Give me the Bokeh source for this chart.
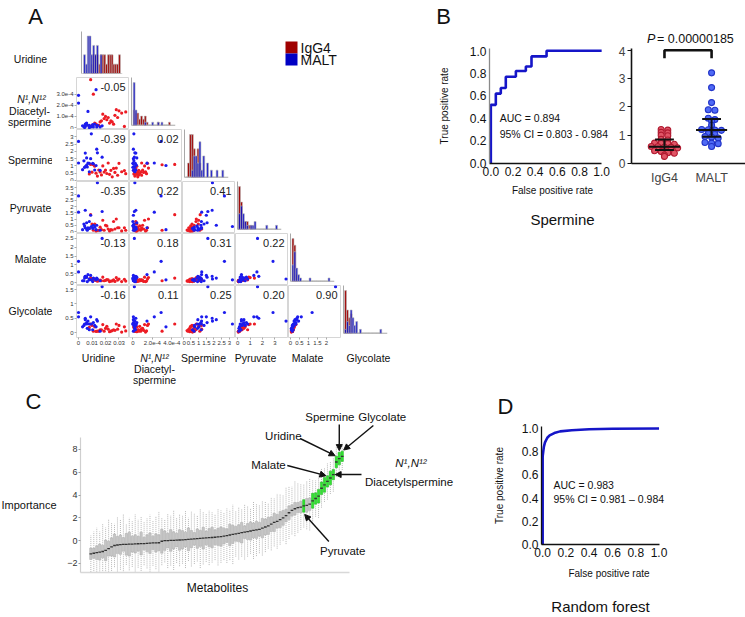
import numpy as np
from bokeh.plotting import figure
from bokeh.layouts import row, column
from bokeh.models import (Range1d, FixedTicker, PrintfTickFormatter, Arrow, NormalHead)
from bokeh.core.properties import value
from bokeh.embed import file_html
from bokeh.resources import INLINE

FONT = "Liberation Sans"

# ---------------- Panel A / B data (one value per sample) ----------------
igg4_spermine = [1.20, 1.18, 1.10, 1.08, 1.00, 0.98, 0.85, 0.83, 0.72, 0.71, 0.70, 0.68, 0.60,
                 0.59, 0.58, 0.57, 0.55, 0.50, 0.48, 0.47, 0.45, 0.42, 0.38, 0.36, 0.30, 0.25]
igg4_uridine = [0.022, 0.030, 0.009, 0.011, 0.018, 0.012, 0.028, 0.026, 0.015, 0.020, 0.024, 0.034, 0.032,
                0.016, 0.019, 0.010, 0.027, 0.013, 0.021, 0.035, 0.008, 0.023, 0.017, 0.029, 0.014, 0.025]
igg4_diacetyl = [0.9e-4, 1.5e-4, 4.3e-4, 3.0e-4, 1.2e-4, 0.4e-4, 1.6e-4, 0.3e-4, 0.2e-4, 1.0e-4, 0.6e-4, 0.1e-4, 1.3e-4,
                 0.5e-4, 0.8e-4, 0.2e-4, 1.1e-4, 0.3e-4, 0.7e-4, 1.4e-4, 0.1e-4, 0.4e-4, 0.6e-4, 0.9e-4, 0.2e-4, 0.5e-4]
igg4_pyruvate = [0.20, 0.30, 1.35, 0.10, 0.90, 0.60, 1.00, 0.80, 0.10, 0.50, 0.15, 0.30, 0.05,
                 0.35, 0.10, 0.60, 0.20, 0.05, 0.45, 0.10, 0.25, 0.05, 0.15, 0.30, 0.08, 0.12]
igg4_malate = [0.15, 0.20, 0.25, 0.10, 0.30, 0.20, 0.28, 0.15, 0.10, 0.12, 0.08, 0.18, 0.05,
               0.14, 0.10, 0.22, 0.06, 0.12, 0.16, 0.08, 0.20, 0.05, 0.10, 0.14, 0.07, 0.09]
igg4_glycolate = [0.12, 0.25, 0.30, 0.05, 0.28, 0.20, 0.30, 0.10, 0.05, 0.15, 0.05, 0.20, 0.02,
                  0.10, 0.05, 0.25, 0.08, 0.04, 0.22, 0.06, 0.18, 0.03, 0.10, 0.12, 0.05, 0.07]

malt_spermine = [3.20, 2.68, 2.15, 1.90, 1.88, 1.60, 1.55, 1.50, 1.35, 1.20, 1.19, 1.18, 1.17, 1.15,
                 1.05, 1.03, 0.95, 0.93, 0.90, 0.74, 0.72, 0.70, 0.60]
malt_uridine = [0.0095, 0.0, 0.0135, 0.014, 0.005, 0.0175, 0.006, 0.009, 0.004, 0.0, 0.007, 0.008, 0.0105,
                0.011, 0.006, 0.013, 0.005, 0.0065, 0.0045, 0.003, 0.012, 0.016, 0.008]
malt_diacetyl = [0.1e-4, 2.9e-4, 0.05e-4, 0.2e-4, 0.3e-4, 0.15e-4, 0.4e-4, 0.05e-4, 0.1e-4, 2.2e-4, 1.45e-4,
                 0.0, 0.25e-4, 0.05e-4, 0.35e-4, 3.4e-4, 0.1e-4, 0.2e-4, 0.0, 0.15e-4, 0.3e-4, 0.05e-4, 0.2e-4]
malt_pyruvate = [0.40, 2.85, 0.50, 3.90, 1.70, 1.60, 0.70, 1.30, 0.60, 1.55, 0.30, 0.80, 0.25, 0.50,
                 0.20, 0.15, 0.30, 0.10, 0.45, 0.15, 0.35, 0.10, 0.25]
malt_malate = [0.15, 1.20, 0.25, 0.20, 0.35, 2.50, 0.30, 0.40, 0.10, 0.60, 0.45, 0.20, 0.05, 0.25,
               0.30, 0.15, 0.35, 0.05, 0.25, 0.10, 0.20, 0.10, 0.15]
malt_glycolate = [0.30, 0.70, 0.45, 0.40, 0.50, 1.60, 0.35, 0.55, 0.25, 0.55, 0.40, 0.30, 0.10, 0.35,
                  0.30, 0.20, 0.45, 0.15, 0.30, 0.20, 0.25, 0.05, 0.10]

var_names = ["Uridine", "N\u00b9,N\u00b9\u00b2 Diacetylspermine", "Spermine", "Pyruvate", "Malate", "Glycolate"]
corr_values = [[-0.05],
               [-0.39, 0.02],
               [-0.35, 0.22, 0.41],
               [-0.13, 0.18, 0.31, 0.22],
               [-0.16, 0.11, 0.25, 0.20, 0.90]]
group_names = ["IgG4", "MALT"]
p_value_text = "= 0.00000185"

# ROC (Spermine) and panel D (Random forest)
roc_b_fpr = [0, 0, 0.045, 0.045, 0.09, 0.09, 0.135, 0.135, 0.226, 0.226, 0.316, 0.316, 0.367, 0.367, 0.503, 0.503, 1.0]
roc_b_tpr = [0, 0.52, 0.52, 0.62, 0.62, 0.67, 0.67, 0.77, 0.77, 0.82, 0.82, 0.86, 0.86, 0.95, 0.95, 1.0, 1.0]
roc_b_text = ["AUC = 0.894", "95% CI = 0.803 - 0.984"]
roc_d_fpr = [0, 0, 0.005, 0.01, 0.02, 0.04, 0.06, 0.10, 0.15, 0.25, 0.40, 0.60, 1.0]
roc_d_tpr = [0, 0.76, 0.80, 0.84, 0.88, 0.92, 0.94, 0.96, 0.975, 0.985, 0.993, 0.998, 1.0]
roc_d_text = ["AUC = 0.983", "95% CI = 0.981 \u2013 0.984"]

# ---------------- Panel C data (importance per metabolite, sorted) ----------------
c_median = [-1.15, -1.10, -1.05, -1.00, -0.95, -0.85, -0.70, -0.55, -0.42, -0.38,
            -0.35, -0.33, -0.32, -0.30, -0.30, -0.28, -0.27, -0.25, -0.25, -0.23,
            -0.22, -0.20, -0.20, -0.18, -0.05, 0.00, 0.00, 0.02, 0.03, 0.05,
            0.06, 0.08, 0.10, 0.12, 0.14, 0.16, 0.18, 0.20, 0.22, 0.24,
            0.26, 0.28, 0.30, 0.33, 0.36, 0.40, 0.45, 0.50, 0.55, 0.60,
            0.65, 0.70, 0.75, 0.80, 0.85, 0.90, 0.95, 1.00, 1.10, 1.20,
            1.30, 1.45, 1.60, 1.70, 1.85, 2.00, 2.20, 2.45, 2.65, 2.80,
            2.90, 2.95, 3.05, 3.10, 3.20, 3.50, 3.70, 3.90, 4.60, 4.90,
            5.20, 5.50, 5.80, 6.90, 7.20, 7.40]
c_iqr = [1.0, 0.9, 1.2, 1.4, 1.1, 1.8, 1.3, 1.6, 2.0, 1.5,
         1.7, 1.2, 1.9, 2.1, 1.4, 1.6, 1.3, 2.0, 1.1, 1.5,
         1.8, 1.2, 1.6, 1.4, 2.1, 1.7, 1.3, 1.9, 1.5, 1.2,
         1.8, 1.6, 1.3, 2.0, 1.5, 1.1, 1.7, 1.4, 1.9, 1.2,
         1.6, 1.8, 1.3, 1.5, 1.7, 1.4, 1.2, 1.9, 1.6, 1.3,
         1.5, 1.8, 1.1, 1.4, 1.6, 1.3, 1.5, 1.2, 1.7, 1.4,
         1.5, 1.3, 1.6, 1.2, 1.4, 1.3, 1.1, 1.2, 1.0, 1.1,
         0.9, 1.0, 1.1, 1.2, 1.1, 1.3, 1.0, 1.2, 1.1, 1.3,
         1.0, 1.2, 0.9, 1.0, 1.1, 0.9]
c_whisk = [1.6, 1.9, 2.2, 1.8, 2.4, 2.0, 2.6, 2.1, 1.9, 2.5,
           2.2, 2.7, 1.8, 2.3, 2.0, 2.6, 2.1, 2.4, 1.9, 2.2,
           2.5, 2.0, 2.3, 2.7, 2.1, 1.9, 2.4, 2.2, 2.6, 2.0,
           2.3, 2.1, 2.5, 1.9, 2.4, 2.2, 2.0, 2.6, 2.3, 2.1,
           2.4, 2.2, 2.0, 2.5, 2.3, 2.1, 2.4, 2.2, 2.6, 2.0,
           2.3, 2.1, 2.4, 2.2, 2.0, 2.5, 2.3, 2.1, 2.4, 2.2,
           2.0, 2.3, 2.1, 2.4, 2.2, 2.0, 2.5, 2.3, 2.1, 2.4,
           2.2, 2.0, 1.9, 2.1, 2.3, 1.8, 1.6, 1.9, 1.7, 1.5,
           1.6, 1.4, 1.5, 1.3, 1.5, 1.2]
c_confirmed = [72, 75, 76, 77, 78, 79, 80, 81, 82, 83, 84, 85]
c_named = {"Pyruvate": 72, "Malate": 80, "Diacetylspermine": 82, "Uridine": 83, "Spermine": 84, "Glycolate": 85}

RED_PT, BLUE_PT = "#ec1c24", "#1c1ced"
RED_H, BLUE_H = "#a00000", "#0000c4"
ROC_BLUE = "#1515c8"
INK = "#111111"
TOP_H = 386          # height of the upper band (panels A and B)


def base_fig(width, height, x_range, y_range, **kw):
    p = figure(width=width, height=height, x_range=x_range, y_range=y_range,
               output_backend="svg", toolbar_location=None, min_border=0, **kw)
    p.grid.visible = False
    p.background_fill_color = "white"
    p.border_fill_color = "white"
    return p


def canvas(ox, oy, width, height, bt=0, bb=0):
    # a text-only figure whose coordinates are page pixels (frame = y from oy+bt to oy+height-bb)
    p = base_fig(width, height, Range1d(ox, ox + width), Range1d(oy + height - bb, oy + bt),
                 min_border_top=bt, min_border_bottom=bb)
    p.axis.visible = False
    p.outline_line_color = None
    return p


def put(p, x, y, s, size, align="center", style="normal", color=INK):
    p.text(x=[x], y=[y], text=[s], text_font=value(FONT), text_font_size=size,
           text_font_style=style, text_align=align, text_baseline="middle", text_color=color)


def lab(v):
    if v == 0:
        return "0"
    if abs(v) < 1e-3:
        return "%.1fe-4" % (v * 1e4)
    return "%g" % v


# ---------------- Panel A ----------------
igg4 = [igg4_uridine, igg4_diacetyl, igg4_spermine, igg4_pyruvate, igg4_malate, igg4_glycolate]
malt = [malt_uridine, malt_diacetyl, malt_spermine, malt_pyruvate, malt_malate, malt_glycolate]

x_ranges = [(-0.0015, 0.0378), (-0.35e-4, 5.1e-4), (-0.05, 3.4), (-0.18, 4.1), (-0.11, 2.83), (-0.05, 1.85)]
y_ranges = [None, (-0.18e-4, 4.5e-4), (-0.07, 3.5), (-0.16, 4.0), (-0.17, 2.78), (-0.17, 1.64)]
h_ranges = [(-0.002, 0.037), (-0.2e-4, 4.9e-4), (-0.1, 3.6), (-0.1, 4.3), (-0.1, 2.8), (-0.05, 1.85)]
x_ticks = [[0, 0.01, 0.02, 0.03], [0, 2e-4, 4e-4], [0, 0.5, 1, 1.5, 2, 2.5, 3], [0, 1, 2, 3], [0, 0.5, 1, 1.5, 2]]
y_ticks = [None, [0, 1e-4, 2e-4, 3e-4], [0, 0.5, 1, 1.5, 2, 2.5, 3], [0, 0.5, 1, 1.5, 2, 2.5, 3, 3.5],
           [0, 0.5, 1, 1.5, 2, 2.5], [0, 0.5, 1, 1.5]]


def small_axis(ax, ticks):
    ax.ticker = FixedTicker(ticks=ticks)
    ax.major_label_overrides = {t: lab(t) for t in ticks}
    ax.major_label_text_font_size = "6px"
    ax.major_label_text_font = FONT
    ax.major_label_text_color = "#333333"
    ax.axis_line_color = None
    ax.major_tick_out = 2
    ax.major_tick_in = 0
    ax.major_tick_line_color = "#aaaaaa"
    ax.minor_tick_line_color = None
    ax.major_label_standoff = 1


def scatter_cell(i, j):
    left = 24 if j == 0 else 0
    bottom = 13 if i == 5 else 0
    p = base_fig(53 + left, 52 + bottom, Range1d(*x_ranges[j]), Range1d(*y_ranges[i]),
                 min_border_left=left, min_border_bottom=bottom)
    p.outline_line_color = "#d6d6d6"
    p.xaxis.visible = (i == 5)
    p.yaxis.visible = (j == 0)
    if i == 5:
        small_axis(p.xaxis[0], x_ticks[j])
    if j == 0:
        small_axis(p.yaxis[0], y_ticks[i])
    p.scatter(igg4[j], igg4[i], size=3.2, color=RED_PT, line_width=0)
    p.scatter(malt[j], malt[i], size=3.2, color=BLUE_PT, line_width=0)
    p.text(x=[x_ranges[j][1]], y=[y_ranges[i][1]], text=["%.2f" % corr_values[i - 1][j]],
           x_offset=-4, y_offset=9, text_align="right", text_baseline="middle",
           text_font=value(FONT), text_font_size="11px", text_color="#222222")
    return p


def hist_cell(k):
    # same top/bottom borders as the scatter cells that share its row
    if k == 0:
        w, h, bl, br, bt, bb = 77, 77, 29, 7, 31, 4
    elif k == 5:
        w, h, bl, br, bt, bb = 53, 65, 2, 7, 0, 13
    else:
        w, h, bl, br, bt, bb = 53, 52, 2, 7, 0, 0
    allv = np.concatenate([igg4[k], malt[k]])
    edges = np.linspace(0, allv.max() * 1.0001, 21)
    c1, _ = np.histogram(igg4[k], bins=edges)
    c2, _ = np.histogram(malt[k], bins=edges)
    top = max(c1.max(), c2.max())
    lo = 0 if k == 0 else -0.1 * top
    p = base_fig(w, h, Range1d(*h_ranges[k]), Range1d(lo, top * 1.12),
                 min_border_left=bl, min_border_right=br, min_border_top=bt, min_border_bottom=bb)
    p.outline_line_color = None
    for ax in p.axis:
        ax.ticker = FixedTicker(ticks=[])
        ax.major_tick_out = 0
        ax.major_tick_in = 0
        ax.minor_tick_line_color = None
        ax.major_label_standoff = 0
    p.xaxis.axis_line_color = None
    p.yaxis.axis_line_color = "#a8a8a8"
    p.yaxis.bounds = (0, top * 1.12)
    p.segment(x0=[h_ranges[k][0]], y0=[0], x1=[h_ranges[k][1]], y1=[0], line_color="#a8a8a8", line_width=1)
    p.quad(left=edges[:-1], right=edges[1:], bottom=0, top=c1, fill_color=RED_H,
           line_color="#b8b8b8", line_width=0.6)
    p.quad(left=edges[:-1], right=edges[1:], bottom=0, top=c2, fill_color=BLUE_H, fill_alpha=0.88,
           line_color="#b8b8b8", line_width=0.6)
    return p


# row labels + panel letter (page x 0..52, y 0..TOP_H)
labels_fig = canvas(0, 0, 52, TOP_H)
put(labels_fig, 35, 16, "A", "22px")
row_label_y = [58, 110, 159, 207, 258, 310]
for k, name in enumerate(var_names):
    if k == 1:
        put(labels_fig, 31, row_label_y[k] - 12, "N\u00b9,N\u00b9\u00b2", "10.5px", style="italic")
        put(labels_fig, 29, row_label_y[k], "Diacetyl-", "10.5px")
        put(labels_fig, 29, row_label_y[k] + 11, "spermine", "10.5px")
    else:
        put(labels_fig, 30, row_label_y[k], name, "10.5px")

# legend (page x 129..430, y 0..77), frame shares the borders of the histogram beside it
legend_fig = canvas(129, 0, 301, 77, bt=31, bb=4)
legend_fig.scatter(x=[291, 291], y=[47, 59], marker="square", size=12, fill_color=[RED_H, BLUE_H], line_color=None)
put(legend_fig, 300, 47, group_names[0], "14px", align="left")
put(legend_fig, 300, 59, group_names[1], "14px", align="left")

# column labels (page x 52..430, y 350..TOP_H)
col_fig = canvas(52, 350, 378, TOP_H - 350)
col_label_x = [98, 154, 203, 255, 307, 368]
for k, name in enumerate(var_names):
    if k == 1:
        put(col_fig, col_label_x[k], 357, "N\u00b9,N\u00b9\u00b2", "10.5px", style="italic")
        put(col_fig, col_label_x[k], 368, "Diacetyl-", "10.5px")
        put(col_fig, col_label_x[k], 379, "spermine", "10.5px")
    else:
        put(col_fig, col_label_x[k], 357, name, "10.5px")

grid_rows = [row(hist_cell(0), legend_fig)]
for i in range(1, 6):
    grid_rows.append(row(*[scatter_cell(i, j) for j in range(i)], hist_cell(i)))
grid_col = column(*grid_rows, column(col_fig))
A_block = row(labels_fig, grid_col)


# ---------------- Panel B ----------------
def roc_axes(p, left_color, ystand, xstand):
    for ax in (p.xaxis[0], p.yaxis[0]):
        ax.ticker = FixedTicker(ticks=[0, 0.2, 0.4, 0.6, 0.8, 1.0])
        ax.formatter = PrintfTickFormatter(format="%.1f")
        ax.major_tick_line_color = None
        ax.minor_tick_line_color = None
        ax.major_tick_out = 0
        ax.major_tick_in = 0
        ax.major_label_text_font_size = "12px"
        ax.major_label_text_font = FONT
        ax.major_label_text_color = INK
        ax.major_label_standoff = 3
        ax.axis_label_text_font_size = "10px"
        ax.axis_label_text_font = FONT
        ax.axis_label_text_font_style = "normal"
        ax.axis_label_text_color = INK
    p.xaxis.axis_label = "False positive rate"
    p.yaxis.axis_label = "True positive rate"
    p.xaxis.axis_line_color = INK
    p.xaxis.axis_line_width = 1.6
    p.xaxis.bounds = (p.x_range.start, 1.0)
    p.yaxis.axis_line_color = left_color
    p.yaxis.axis_line_width = 1.3
    p.yaxis.axis_label_standoff = ystand
    p.xaxis.axis_label_standoff = xstand


bhead = canvas(430, 0, 315, 46)
put(bhead, 443, 16, "B", "22px")
put(bhead, 646.5, 38, "P", "12.5px", align="left", style="italic")
put(bhead, 656.5, 38, p_value_text, "12.5px", align="left")

# ROC frame: page x 489..615, y 48..163
roc_b = base_fig(185, 159, Range1d(-0.012, 1.125), Range1d(0, 1.02),
                 min_border_left=59, min_border_right=0, min_border_top=2, min_border_bottom=42)
roc_b.outline_line_color = None
roc_axes(roc_b, "#8a8a8a", 17, 6)
roc_b.line(roc_b_fpr, roc_b_tpr, line_color=ROC_BLUE, line_width=2.6)
roc_b.text(x=[0.08, 0.08], y=[0.40, 0.265], text=roc_b_text, text_font=value(FONT),
           text_font_size="10.5px", text_baseline="middle", text_color=INK)

# dot plot frame: page x 630..745
dot = base_fig(130, 159, Range1d(0.3, 2.72), Range1d(0, 4.06),
               min_border_left=15, min_border_right=0, min_border_top=2, min_border_bottom=42)
dot.outline_line_color = None
ya = dot.yaxis[0]
ya.ticker = FixedTicker(ticks=[0, 1, 2, 3, 4])
ya.major_tick_out = 4
ya.major_tick_in = 0
ya.major_tick_line_color = INK
ya.minor_tick_line_color = None
ya.axis_line_color = INK
ya.axis_line_width = 1.6
ya.major_label_text_font_size = "12px"
ya.major_label_text_font = FONT
ya.major_label_standoff = 2
xa = dot.xaxis[0]
xa.ticker = FixedTicker(ticks=[1, 2])
xa.major_label_overrides = {1: group_names[0], 2: group_names[1]}
xa.major_tick_line_color = None
xa.minor_tick_line_color = None
xa.major_tick_out = 0
xa.axis_line_color = INK
xa.axis_line_width = 1.6
xa.major_label_text_font_size = "12.5px"
xa.major_label_text_font = FONT
xa.major_label_standoff = 7


def swarm(vals, center, step=0.14, binw=0.1):
    vals = np.asarray(vals)
    keys = np.round(vals / binw).astype(int)
    xs = np.zeros(len(vals))
    for kk in np.unique(keys):
        ids = np.where(keys == kk)[0]
        m = len(ids)
        for jj, ii in enumerate(ids):
            xs[ii] = center + (jj - (m - 1) / 2.0) * step
    return xs


for vals, cx0, fc, lc in [(igg4_spermine, 1, "#e05566", "#b01a30"), (malt_spermine, 2, "#4f6af5", "#2234c8")]:
    dot.scatter(swarm(vals, cx0), vals, size=6, fill_color=fc, line_color=lc, line_width=1.1)
    q1v, q2v, q3v = np.percentile(vals, [25, 50, 75])
    dot.segment(x0=[cx0, cx0 - 0.2, cx0 - 0.2, cx0 - 0.33], y0=[q1v, q1v, q3v, q2v],
                x1=[cx0, cx0 + 0.2, cx0 + 0.2, cx0 + 0.33], y1=[q3v, q1v, q3v, q2v],
                line_color=INK, line_width=2)
dot.line(x=[1, 1, 2, 2], y=[3.72, 4.0, 4.0, 3.72], line_color=INK, line_width=2.6)

sperm_fig = canvas(430, 205, 315, TOP_H - 205)
put(sperm_fig, 562, 219, "Spermine", "15px")

B_block = column(column(bhead), row(roc_b, dot), column(sperm_fig))

# ---------------- Panel C ----------------
BOT_H = 617 - TOP_H
c_left = canvas(0, TOP_H, 64, BOT_H)
put(c_left, 33, 401, "C", "22px")
put(c_left, 1, 504, "Importance", "11px", align="left")

med = np.array(c_median)
iqr = np.array(c_iqr)
wh = np.array(c_whisk)
idx = np.arange(len(med))
q1 = med - iqr / 2
q3 = med + iqr / 2
fill = ["#31e331" if k in c_confirmed else "#c6c6c6" for k in idx]
edge = ["#20b020" if k in c_confirmed else "#a9a9a9" for k in idx]

# frame: page x 76..454, y TOP_H..572 ; axes bounded to the data area (x <= 87.5, y <= 9.05)
PX_X, PX_Y = 272 / 91.0, 135 / 11.84
pC = base_fig(390, 575 - TOP_H, Range1d(-3.5, -3.5 + 378 / PX_X), Range1d(-2.79, -2.79 + (572 - TOP_H) / PX_Y),
              min_border_left=12, min_border_right=0, min_border_top=0, min_border_bottom=3)
pC.outline_line_color = None
cy_ax = pC.yaxis[0]
cy_ax.ticker = FixedTicker(ticks=[-2, 0, 2, 4, 6, 8])
cy_ax.bounds = (-2.79, 9.05)
cy_ax.axis_line_color = "#cfcfcf"
cy_ax.axis_line_width = 1.2
cy_ax.major_tick_out = 2
cy_ax.major_tick_in = 0
cy_ax.major_tick_line_color = "#9a9a9a"
cy_ax.minor_tick_line_color = None
cy_ax.major_label_text_font_size = "9px"
cy_ax.major_label_text_font = FONT
cy_ax.major_label_text_color = "#333333"
cy_ax.major_label_standoff = 1
cx_ax = pC.xaxis[0]
cx_ax.ticker = FixedTicker(ticks=[])
cx_ax.bounds = (-3.5, 87.5)
cx_ax.axis_line_color = "#d8d8d8"
cx_ax.axis_line_width = 1.6
cx_ax.major_tick_out = 0
cx_ax.major_label_standoff = 0

pC.segment(x0=idx, y0=med - wh, x1=idx, y1=q1, line_color="#9a9a9a", line_width=0.7, line_dash="1 1")
pC.segment(x0=idx, y0=q3, x1=idx, y1=med + wh, line_color="#9a9a9a", line_width=0.7, line_dash="1 1")
pC.vbar(x=idx, width=0.8, bottom=q1, top=q3, fill_color=fill, line_color=edge, line_width=0.5)
pC.segment(x0=idx - 0.45, y0=med, x1=idx + 0.45, y1=med, line_color="#333333", line_width=1.3)


def cxd(xp):
    return (xp - 76) / PX_X - 3.5


def cyd(yp):
    return 9.05 - (yp - 437) / PX_Y


def c_label(xp, yp, s, style="normal"):
    pC.text(x=[cxd(xp)], y=[cyd(yp)], text=[s], text_align="center", text_baseline="middle",
            text_font=value(FONT), text_font_size="11.5px", text_font_style=style, text_color=INK)


def c_arrow(xs, ys, xe, ye):
    pC.add_layout(Arrow(end=NormalHead(size=6, fill_color=INK, line_color=INK, line_width=1),
                        x_start=xs, y_start=ys, x_end=xe, y_end=ye,
                        line_color=INK, line_width=1.4))


k = c_named["Spermine"]; c_label(328, 416, "Spermine"); c_arrow(k, cyd(424), k, q3[k] + 0.15)
k = c_named["Glycolate"]; c_label(381, 416, "Glycolate"); c_arrow(cxd(372), cyd(425), k + 0.5, q3[k] + 0.1)
k = c_named["Uridine"]; c_label(281, 435, "Uridine"); c_arrow(cxd(298), cyd(438), k - 0.4, q3[k] + 0.05)
k = c_named["Malate"]; c_label(266, 464, "Malate"); c_arrow(cxd(285), cyd(465), k - 0.5, q3[k])
k = c_named["Diacetylspermine"]
c_label(410, 462, "N\u00b9,N\u00b9\u00b2", style="italic")
c_label(408, 481, "Diacetylspermine")
c_arrow(cxd(360), med[k], k + 0.6, med[k])
k = c_named["Pyruvate"]; c_label(341, 550, "Pyruvate"); c_arrow(cxd(327), cyd(541), k + 0.3, q1[k] - 0.2)

metab_fig = canvas(64, 575, 390, 42)
put(metab_fig, 217, 587, "Metabolites", "12px")

C_block = row(c_left, column(pC, column(metab_fig)))

# ---------------- Panel D ----------------
d_top = canvas(454, TOP_H, 291, 418 - TOP_H)
put(d_top, 505, 406, "D", "22px")

# frame: page x 541..676, y 426..544
pD = base_fig(291, 172, Range1d(-0.01, 1.15), Range1d(0, 1.017),
              min_border_left=87, min_border_right=69, min_border_top=8, min_border_bottom=46)
pD.outline_line_color = None
roc_axes(pD, INK, 14, 8)
pD.line(roc_d_fpr, roc_d_tpr, line_color=ROC_BLUE, line_width=2.6)
pD.text(x=[0.093, 0.093], y=[0.517, 0.396], text=roc_d_text, text_font=value(FONT),
        text_font_size="10.5px", text_baseline="middle", text_color=INK)

d_bottom = canvas(454, 590, 291, 27)
put(d_bottom, 600, 606, "Random forest", "15px")

D_block = column(column(d_top), pD, column(d_bottom))

layout = column(row(A_block, B_block), row(C_block, D_block))
open("out.html", "w").write(file_html(layout, INLINE))
